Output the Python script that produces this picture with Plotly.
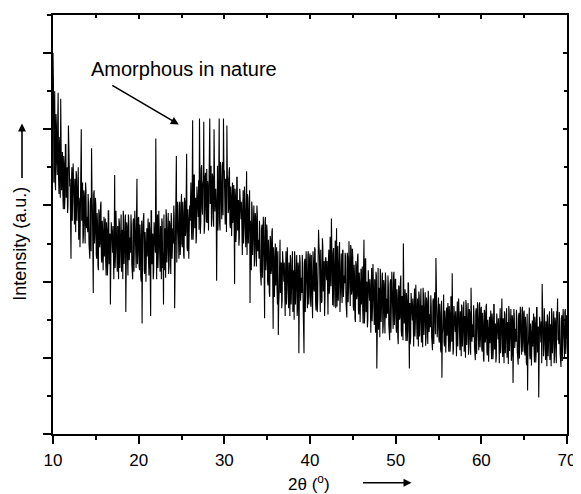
import plotly.graph_objects as go

# XRD scan: 2theta 10-70 deg at 0.05 deg spacing.
# "main" lists hold readings at 10.0, 10.1, ...; "half" lists hold readings at 10.05, 10.15, ...
scan_start = 10.0
scan_step = 0.05

main_10_19 = [
    500, 330, 450, 320, 405, 340, 448, 315, 390, 440,
    320, 370, 295, 355, 310, 380, 330, 290, 405, 345,
    335, 230, 350, 300, 330, 275, 320, 345, 280, 305,
    255, 300, 335, 400, 295, 250, 320, 275, 330, 270,
    285, 315, 250, 230, 310, 375, 295, 185, 320, 265,
    300, 230, 275, 215, 290, 250, 305, 225, 265, 240,
    233, 283, 208, 268, 223, 293, 243, 170, 278, 258,
    273, 203, 340, 238, 268, 213, 258, 283, 218, 243,
    213, 258, 293, 223, 253, 160, 278, 233, 288, 228,
    258, 288, 223, 203, 283, 243, 268, 218, 335, 238,
]
half_10_19 = [
    460, 400, 330, 420, 355, 410, 335, 380, 310, 375,
    370, 315, 365, 295, 380, 310, 350, 300, 355, 325,
    270, 325, 280, 355, 290, 335, 265, 340, 300, 350,
    310, 245, 325, 280, 330, 260, 315, 250, 320, 285,
    265, 300, 230, 305, 240, 320, 255, 315, 250, 310,
    235, 290, 220, 295, 245, 300, 230, 280, 215, 285,
    283, 228, 278, 208, 293, 223, 263, 213, 268, 238,
    208, 263, 218, 293, 228, 273, 203, 278, 238, 288,
    268, 203, 283, 238, 288, 218, 273, 208, 278, 243,
    238, 273, 203, 278, 213, 293, 228, 288, 223, 283,
]
main_20_29 = [
    285, 215, 260, 200, 145, 275, 290, 210, 250, 225,
    233, 283, 208, 268, 155, 293, 243, 203, 278, 258,
    388, 203, 288, 238, 268, 213, 258, 283, 218, 170,
    215, 260, 295, 225, 255, 210, 280, 235, 290, 230,
    270, 300, 165, 215, 365, 255, 280, 230, 305, 250,
    315, 245, 290, 230, 305, 265, 368, 240, 280, 255,
    280, 330, 255, 412, 270, 340, 290, 250, 325, 305,
    333, 414, 263, 348, 298, 328, 410, 273, 343, 278,
    277, 322, 357, 414, 317, 272, 342, 297, 400, 292,
    322, 201, 352, 287, 414, 267, 332, 282, 357, 414,
]
half_20_29 = [
    220, 275, 205, 280, 230, 285, 215, 265, 200, 270,
    283, 228, 278, 208, 293, 223, 263, 213, 268, 238,
    208, 263, 218, 293, 228, 273, 203, 278, 238, 288,
    270, 205, 285, 240, 290, 220, 275, 210, 280, 245,
    250, 285, 215, 290, 225, 305, 240, 300, 235, 295,
    250, 305, 235, 310, 260, 315, 245, 295, 230, 300,
    330, 275, 325, 255, 340, 270, 310, 260, 315, 285,
    268, 323, 278, 353, 288, 333, 263, 338, 298, 348,
    332, 267, 347, 302, 352, 282, 337, 272, 342, 307,
    302, 337, 267, 342, 277, 357, 292, 352, 287, 347,
]
main_30_39 = [
    345, 275, 320, 405, 335, 295, 350, 270, 310, 285,
    277, 327, 197, 312, 267, 337, 287, 247, 322, 302,
    305, 235, 320, 270, 300, 245, 345, 315, 250, 275,
    172, 270, 305, 235, 265, 220, 290, 245, 300, 240,
    250, 280, 215, 195, 275, 235, 260, 152, 285, 230,
    265, 195, 240, 180, 255, 215, 270, 138, 230, 205,
    195, 245, 170, 130, 185, 255, 205, 165, 240, 220,
    225, 155, 240, 190, 220, 165, 210, 235, 170, 195,
    160, 205, 240, 170, 200, 155, 225, 106, 235, 175,
    205, 235, 170, 106, 230, 190, 215, 165, 240, 185,
]
half_30_39 = [
    280, 335, 265, 340, 290, 345, 275, 325, 260, 330,
    327, 272, 322, 252, 337, 267, 307, 257, 312, 282,
    240, 295, 250, 325, 260, 305, 235, 310, 270, 320,
    280, 215, 295, 250, 300, 230, 285, 220, 290, 255,
    230, 265, 195, 270, 205, 285, 220, 280, 215, 275,
    200, 255, 185, 260, 210, 265, 195, 245, 180, 250,
    245, 190, 240, 170, 255, 185, 225, 175, 230, 200,
    160, 215, 170, 245, 180, 225, 155, 230, 190, 240,
    215, 150, 230, 185, 235, 165, 220, 155, 225, 190,
    185, 220, 150, 225, 160, 240, 175, 235, 170, 230,
]
main_40_49 = [
    237, 167, 212, 152, 227, 187, 242, 162, 202, 177,
    268, 235, 160, 220, 175, 245, 195, 155, 230, 210,
    227, 157, 242, 192, 222, 283, 212, 237, 167, 197,
    165, 270, 245, 175, 205, 160, 230, 185, 240, 180,
    208, 238, 173, 153, 233, 193, 218, 168, 243, 188,
    232, 162, 207, 147, 222, 182, 237, 157, 197, 172,
    170, 220, 145, 255, 160, 230, 180, 140, 215, 195,
    203, 133, 218, 168, 198, 143, 188, 213, 86, 173,
    137, 182, 217, 147, 177, 132, 202, 157, 212, 152,
    178, 208, 143, 123, 203, 163, 188, 138, 213, 158,
]
half_40_49 = [
    180, 235, 165, 240, 190, 245, 175, 225, 160, 230,
    247, 192, 242, 172, 257, 187, 227, 177, 232, 202,
    174, 229, 184, 259, 194, 239, 169, 244, 204, 254,
    232, 167, 247, 202, 252, 182, 237, 172, 242, 207,
    198, 233, 163, 238, 173, 253, 188, 248, 183, 243,
    167, 222, 152, 227, 177, 232, 162, 212, 147, 217,
    220, 165, 215, 145, 230, 160, 200, 150, 205, 175,
    138, 193, 148, 223, 158, 203, 133, 208, 168, 218,
    192, 127, 207, 162, 212, 142, 197, 132, 202, 167,
    158, 193, 123, 198, 133, 213, 148, 208, 143, 203,
]
main_50_59 = [
    203, 133, 178, 118, 193, 153, 208, 128, 168, 250,
    145, 190, 122, 176, 136, 198, 86, 118, 185, 167,
    178, 115, 191, 146, 173, 124, 164, 187, 128, 151,
    120, 161, 192, 130, 157, 116, 179, 139, 188, 134,
    157, 182, 127, 110, 178, 144, 165, 231, 186, 140,
    179, 120, 158, 107, 74, 137, 183, 115, 149, 128,
    129, 172, 108, 159, 121, 180, 211, 104, 168, 150,
    161, 102, 174, 132, 157, 110, 149, 170, 115, 136,
    108, 147, 176, 117, 142, 104, 164, 125, 192, 121,
    144, 169, 114, 97, 165, 131, 152, 110, 173, 127,
]
half_50_59 = [
    140, 190, 127, 195, 150, 199, 136, 181, 123, 186,
    190, 140, 185, 122, 199, 136, 172, 127, 176, 149,
    119, 169, 128, 196, 137, 178, 115, 182, 146, 191,
    169, 114, 182, 144, 186, 127, 173, 118, 178, 148,
    140, 169, 110, 174, 118, 186, 131, 182, 127, 178,
    124, 171, 111, 175, 132, 179, 120, 162, 107, 166,
    172, 125, 168, 108, 180, 121, 155, 112, 159, 134,
    106, 153, 115, 178, 123, 161, 102, 166, 132, 174,
    155, 100, 168, 130, 172, 113, 159, 104, 164, 134,
    127, 156, 97, 161, 105, 173, 118, 169, 114, 165,
]
main_60_70 = [
    167, 108, 146, 95, 159, 125, 171, 103, 137, 116,
    119, 162, 98, 149, 111, 170, 128, 94, 158, 140,
    152, 93, 165, 123, 178, 101, 140, 161, 106, 127,
    100, 139, 168, 109, 134, 96, 156, 67, 164, 113,
    138, 163, 108, 91, 159, 125, 146, 104, 167, 121,
    162, 103, 141, 90, 57, 120, 166, 98, 132, 111,
    115, 158, 94, 145, 107, 166, 124, 48, 154, 136,
    148, 197, 161, 119, 144, 97, 136, 157, 102, 123,
    97, 136, 165, 106, 131, 93, 153, 114, 161, 178,
    135, 160, 105, 88, 156, 122, 143, 101, 164, 118,
    125,
]
half_60_69 = [
    112, 159, 99, 163, 120, 167, 108, 150, 95, 154,
    162, 115, 158, 98, 170, 111, 145, 102, 149, 124,
    97, 144, 106, 169, 114, 152, 93, 157, 123, 165,
    147, 92, 160, 122, 164, 105, 151, 96, 156, 126,
    121, 150, 91, 155, 99, 167, 112, 163, 108, 159,
    107, 154, 94, 158, 115, 162, 103, 145, 90, 149,
    158, 111, 154, 94, 166, 107, 141, 98, 145, 120,
    93, 140, 102, 165, 110, 148, 89, 152, 119, 161,
    144, 89, 157, 119, 161, 102, 148, 93, 153, 123,
    118, 147, 88, 152, 96, 164, 109, 160, 105, 156,
]

x_tick_vals = [10, 20, 30, 40, 50, 60, 70]
x_tick_text = ["10", "20", "30", "40", "50", "60", "70"]
y_major_vals = [0, 100, 200, 300, 400, 500]
x_range = [10, 70]
y_range = [0, 550]

main_readings = main_10_19 + main_20_29 + main_30_39 + main_40_49 + main_50_59 + main_60_70
half_readings = half_10_19 + half_20_29 + half_30_39 + half_40_49 + half_50_59 + half_60_69
intensity = []
for a, b in zip(main_readings, half_readings):
    intensity += [a, b]
intensity.append(main_readings[-1])
two_theta = [round(scan_start + scan_step * i, 3) for i in range(len(intensity))]

FONT = "Liberation Sans, Arial, sans-serif"

fig = go.Figure()
fig.add_trace(go.Scatter(x=two_theta, y=intensity, mode="lines",
                         line=dict(color="black", width=1.1), showlegend=False,
                         hoverinfo="skip"))
# dummy trace to anchor mirrored inner-tick axes
fig.add_trace(go.Scatter(x=[None], y=[None], xaxis="x2", yaxis="y2",
                         showlegend=False, hoverinfo="skip"))

axis_common = dict(showgrid=False, zeroline=False, linecolor="black",
                   linewidth=1.5, tickcolor="black")

# the page keeps its default 8px body margin, so the figure is sized to end
# exactly at the window's right and bottom edges
fig.update_layout(
    width=573, height=486,
    margin=dict(l=45, r=10, t=5, b=60),
    paper_bgcolor="white", plot_bgcolor="white",
    font=dict(family=FONT, size=18, color="black"),
    xaxis=dict(range=x_range, tickvals=x_tick_vals, ticktext=x_tick_text,
               ticks="outside", ticklen=8, tickwidth=1.5,
               minor=dict(dtick=5, tick0=0, ticks="outside", ticklen=4,
                          tickwidth=1.5, tickcolor="black"),
               showline=True, mirror=True, ticklabelstandoff=2,
               tickfont=dict(size=17), **axis_common),
    yaxis=dict(range=y_range, tickvals=y_major_vals, showticklabels=False,
               ticks="outside", ticklen=8, tickwidth=1.5,
               minor=dict(dtick=50, tick0=0, ticks="outside", ticklen=4,
                          tickwidth=1.5, tickcolor="black"),
               showline=True, mirror=True, **axis_common),
    xaxis2=dict(range=x_range, overlaying="x", side="top", tickvals=x_tick_vals,
                showticklabels=False, ticks="inside", ticklen=4, tickwidth=1.5,
                minor=dict(dtick=5, tick0=0, ticks="inside", ticklen=3,
                           tickwidth=1.5, tickcolor="black"),
                showline=False, showgrid=False, zeroline=False, tickcolor="black"),
    yaxis2=dict(range=y_range, overlaying="y", side="right", tickvals=y_major_vals,
                showticklabels=False, ticks="inside", ticklen=4, tickwidth=1.5,
                minor=dict(dtick=50, tick0=0, ticks="inside", ticklen=3,
                           tickwidth=1.5, tickcolor="black"),
                showline=False, showgrid=False, zeroline=False, tickcolor="black"),
)

annotations = [
    # x title
    dict(text="2θ (<sup>o</sup>)", x=0.499, y=-0.1164, xref="paper", yref="paper",
         showarrow=False, font=dict(size=17, family=FONT), xanchor="center", yanchor="middle"),
    dict(text="", x=0.6975, y=-0.1164, xref="paper", yref="paper", showarrow=True,
         ax=-50, ay=0, arrowhead=2, arrowsize=1, arrowwidth=1.6, arrowcolor="black"),
    # y title
    dict(text="Intensity (a.u.)", x=-0.0645, y=0.4537, xref="paper", yref="paper",
         showarrow=False, textangle=-90, font=dict(size=18, family=FONT),
         xanchor="center", yanchor="middle"),
    dict(text="", x=-0.0603, y=0.741, xref="paper", yref="paper", showarrow=True,
         ax=0, ay=56, arrowhead=2, arrowsize=1, arrowwidth=1.6, arrowcolor="black"),
    # callout
    dict(text="Amorphous in nature", x=0.2543, y=0.8717, xref="paper", yref="paper",
         showarrow=False, font=dict(size=20, family=FONT), xanchor="center", yanchor="middle"),
    dict(text="", x=0.2447, y=0.7387, xref="paper", yref="paper", showarrow=True,
         ax=-68, ay=-40, arrowhead=2, arrowsize=1, arrowwidth=1.6, arrowcolor="black"),
]
fig.update_layout(annotations=annotations)

fig.write_html("out.html", config={"displayModeBar": False})
